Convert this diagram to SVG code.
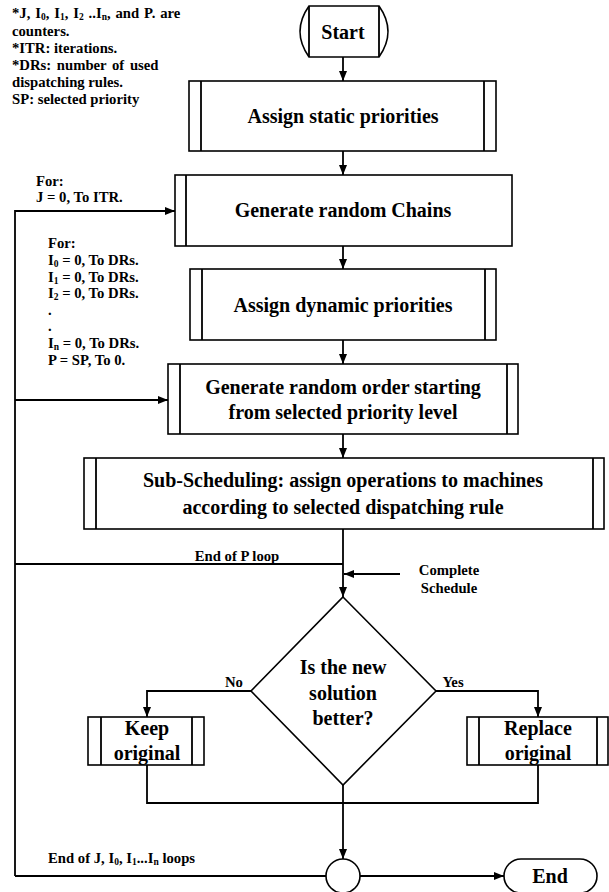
<svg xmlns="http://www.w3.org/2000/svg" width="609" height="892" viewBox="0 0 609 892">
<style>
.b{fill:#fff;stroke:#000;stroke-width:1.6}
.l{fill:none;stroke:#000;stroke-width:1.8}
.t{font-family:"Liberation Serif","Times New Roman",serif;font-weight:bold;font-size:20px;fill:#000;text-anchor:middle}
.s{font-family:"Liberation Serif","Times New Roman",serif;font-weight:bold;font-size:14.7px;fill:#000}
.u{font-size:9.5px;baseline-shift:-2px}
</style>
<defs>
<marker id="a" viewBox="0 0 10 10" refX="10" refY="5" markerWidth="10" markerHeight="10" markerUnits="userSpaceOnUse" orient="auto">
<path d="M0,1 L10,5 L0,9 Z" fill="#000"/>
</marker>
</defs>
<g id="connectors">
<path class="l" d="M343,57 V81" marker-end="url(#a)"/>
<path class="l" d="M343,151 V175" marker-end="url(#a)"/>
<path class="l" d="M343,246 V269" marker-end="url(#a)"/>
<path class="l" d="M343,340 V364" marker-end="url(#a)"/>
<path class="l" d="M343,434 V458" marker-end="url(#a)"/>
<path class="l" d="M343,529 V597" marker-end="url(#a)"/>
<path class="l" d="M400,574 H344" marker-end="url(#a)"/>
<path class="l" d="M343,564 H15"/>
<path class="l" d="M15,876 V211 H175" marker-end="url(#a)"/>
<path class="l" d="M15,400 H168" marker-end="url(#a)"/>
<path class="l" d="M251,691 H147 V717" marker-end="url(#a)"/>
<path class="l" d="M436,691 H538 V717" marker-end="url(#a)"/>
<path class="l" d="M147,765 V803 H538 V765"/>
<path class="l" d="M343,785 V803"/>
<path class="l" d="M343,803 V859" marker-end="url(#a)"/>
<path class="l" d="M326,876 H15"/>
<path class="l" d="M360,876 H504" marker-end="url(#a)"/>
</g>
<g id="notes">
<text class="s" x="12" y="18" word-spacing="1.2">*J, I<tspan class="u">0</tspan>, I<tspan class="u">1</tspan>, I<tspan class="u">2</tspan> ..I<tspan class="u">n</tspan>, and P. are</text>
<text class="s" x="12" y="36">counters.</text>
<text class="s" x="12" y="53">*ITR: iterations.</text>
<text class="s" x="12" y="70" word-spacing="2">*DRs: number of used</text>
<text class="s" x="12" y="87">dispatching rules.</text>
<text class="s" x="12" y="104">SP: selected priority</text>
</g>
<g id="loop-labels">
<text class="s" x="36" y="186">For:</text>
<text class="s" x="36" y="202">J = 0, To ITR.</text>
<text class="s" x="48" y="248">For:</text>
<text class="s" x="48" y="265">I<tspan class="u">0</tspan> = 0, To DRs.</text>
<text class="s" x="48" y="282">I<tspan class="u">1</tspan> = 0, To DRs.</text>
<text class="s" x="48" y="298">I<tspan class="u">2</tspan> = 0, To DRs.</text>
<text class="s" x="48" y="315">.</text>
<text class="s" x="48" y="331">.</text>
<text class="s" x="48" y="348">I<tspan class="u">n</tspan> = 0, To DRs.</text>
<text class="s" x="48" y="365">P = SP, To 0.</text>
<text class="s" x="237" y="561" text-anchor="middle">End of P loop</text>
<text class="s" x="449" y="575" text-anchor="middle">Complete</text>
<text class="s" x="449" y="593" text-anchor="middle">Schedule</text>
<text class="s" x="234" y="687" text-anchor="middle">No</text>
<text class="s" x="453" y="687" text-anchor="middle">Yes</text>
<text class="s" x="48" y="863">End of J, I<tspan class="u">0</tspan>, I<tspan class="u">1</tspan>...I<tspan class="u">n</tspan> loops</text>
</g>
<g id="start">
<path class="b" d="M309,6 H379 Q397,31.5 379,57 H309 Q291,31.5 309,6 Z"/>
<path class="l" d="M309,6 V57 M379,6 V57"/>
<text class="t" x="343" y="39">Start</text>
</g>
<g id="assign-static">
<rect class="b" x="189" y="81" width="307" height="70"/>
<path class="l" d="M201,81 V151 M484,81 V151"/>
<text class="t" x="343" y="123">Assign static priorities</text>
</g>
<g id="gen-chains">
<rect class="b" x="175" y="175" width="337" height="71"/>
<path class="l" d="M186,175 V246"/>
<text class="t" x="343" y="217">Generate random Chains</text>
</g>
<g id="assign-dynamic">
<rect class="b" x="190" y="269" width="306" height="71"/>
<path class="l" d="M202,269 V340 M485,269 V340"/>
<text class="t" x="343" y="312">Assign dynamic priorities</text>
</g>
<g id="gen-order">
<rect class="b" x="168" y="364" width="350" height="70"/>
<path class="l" d="M180,364 V434 M507,364 V434"/>
<text class="t" x="343" y="394">Generate random order starting</text>
<text class="t" x="343" y="419">from selected priority level</text>
</g>
<g id="sub-scheduling">
<rect class="b" x="84" y="458" width="520" height="71"/>
<path class="l" d="M96,458 V529 M593,458 V529"/>
<text class="t" x="343" y="487">Sub-Scheduling: assign operations to machines</text>
<text class="t" x="343" y="514">according to selected dispatching rule</text>
</g>
<g id="decision">
<path class="b" d="M343,597 L436,691 L343,785 L251,691 Z"/>
<text class="t" x="343" y="674">Is the new</text>
<text class="t" x="343" y="700">solution</text>
<text class="t" x="343" y="725">better?</text>
</g>
<g id="keep">
<rect class="b" x="88" y="717" width="116" height="48"/>
<path class="l" d="M101,717 V765 M192,717 V765"/>
<text class="t" x="147" y="735">Keep</text>
<text class="t" x="147" y="760">original</text>
</g>
<g id="replace">
<rect class="b" x="467" y="717" width="141" height="48"/>
<path class="l" d="M479,717 V765 M597,717 V765"/>
<text class="t" x="538" y="735">Replace</text>
<text class="t" x="538" y="760">original</text>
</g>
<g id="connector-circle">
<circle class="b" cx="343" cy="876" r="17"/>
</g>
<g id="end">
<rect class="b" x="504" y="859" width="93" height="34" rx="17"/>
<text class="t" x="550" y="883">End</text>
</g>
</svg>
